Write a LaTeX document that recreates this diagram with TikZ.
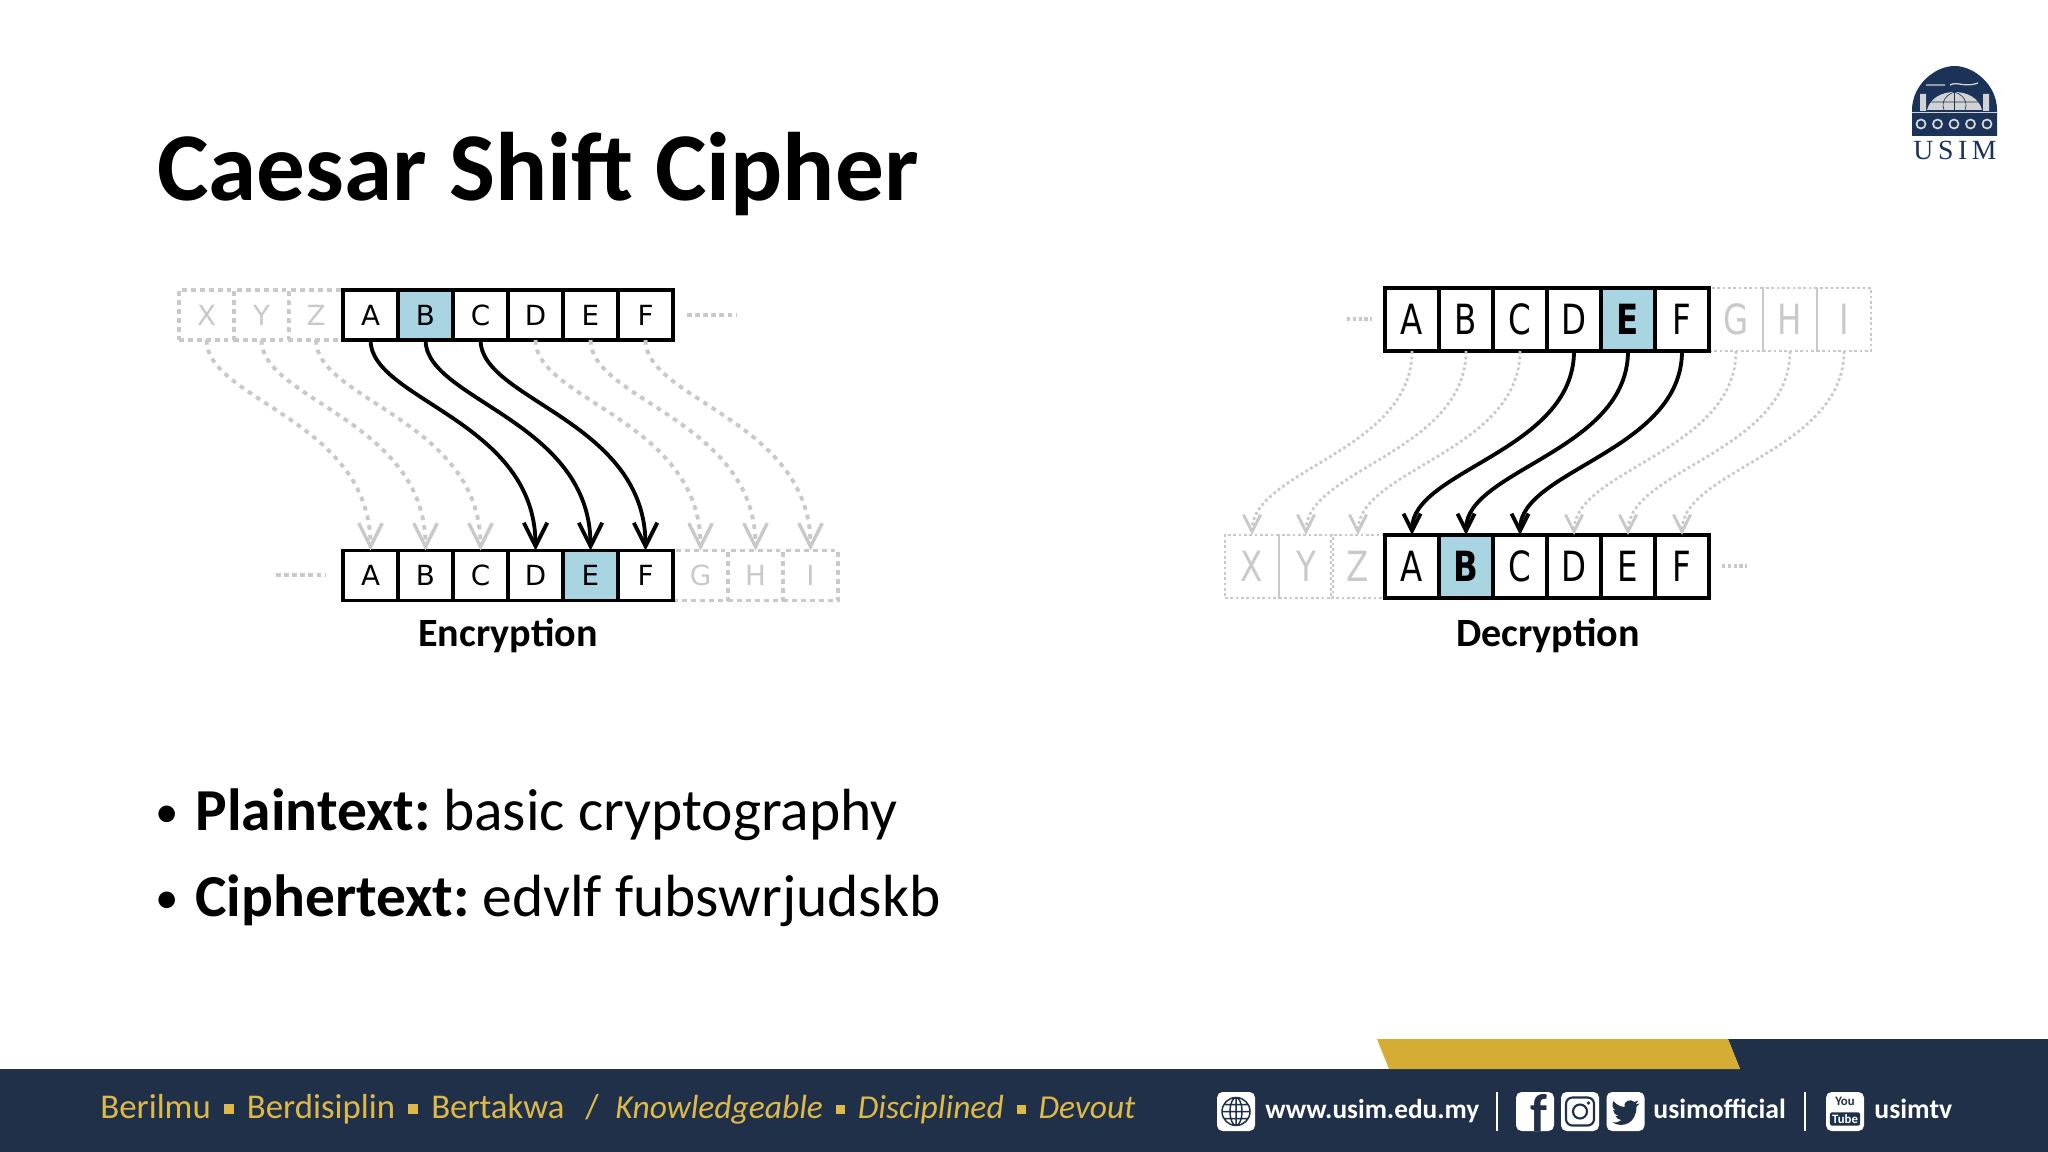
\documentclass[tikz,border=0pt]{standalone}
\usepackage{fontspec}
\setmainfont{Carlito}
\newfontfamily\cellfont{DejaVu Sans}
\newfontfamily\cellnarrow[FakeStretch=0.78]{DejaVu Sans}
\newfontfamily\logofont{Liberation Serif}
\usetikzlibrary{arrows.meta,calc}
\definecolor{navy}{HTML}{203049}
\definecolor{logonavy}{HTML}{1B3358}
\definecolor{gold}{HTML}{D5AD35}
\definecolor{footgold}{HTML}{DDB94A}
\definecolor{hilite}{HTML}{A9D5E3}
\definecolor{ghost}{HTML}{C9C9C9}
\def\pxu{0.46875pt}
\tikzset{
  cell/.style={draw=black,line width=1.7pt,fill=white,inner sep=0pt,outer sep=0pt,text=black},
  ghostcell/.style={draw=ghost,line width=1.6pt,dash pattern=on 2.2pt off 2pt,inner sep=0pt,outer sep=0pt,text=ghost},
  enccell/.style={minimum width=55*\pxu,minimum height=50*\pxu,font=\cellfont\fontsize{13}{14}\selectfont},
  deccell/.style={minimum width=54*\pxu,minimum height=63*\pxu,font=\cellnarrow\fontsize{19.5}{20}\selectfont},
  encarrow/.style={line width=1.8pt,-{Straight Barb[width=11pt,length=11pt,line width=1.8pt]}},
  encghost/.style={ghost,line width=1.8pt,dash pattern=on 2.2pt off 2.4pt,-{Straight Barb[width=11pt,length=11pt,line width=1.6pt,sep=0pt]}},
  decarrow/.style={line width=1.8pt,-{Straight Barb[width=8pt,length=8pt,line width=1.8pt]}},
  decghost/.style={ghost,line width=1.3pt,dash pattern=on 1.3pt off 1.3pt,-{Straight Barb[width=8pt,length=8pt,line width=1.4pt]}},
  dots/.style={ghost,line width=2pt,dash pattern=on 2.2pt off 1.6pt},
  caption/.style={font=\fontsize{18.8}{20}\selectfont\bfseries,inner sep=0pt},
  bodytext/.style={anchor=base west,inner sep=0pt,font=\fontsize{27.9}{30}\selectfont},
  bulmark/.style={anchor=base west,inner sep=0pt,font=\fontsize{22}{24}\selectfont},
  foottext/.style={anchor=base west,inner sep=0pt,text=footgold,font=\fontsize{16.3}{18}\selectfont},
  linktext/.style={anchor=base west,inner sep=0pt,text=white,font=\fontsize{13}{15}\selectfont\bfseries},
  iconbox/.style={fill=white,rounded corners=2.6pt,minimum width=38*\pxu,minimum height=39*\pxu,inner sep=0pt,outer sep=0pt}
}
\newcommand{\footsq}{\hspace{.38em}\rule[.12em]{.28em}{.28em}\hspace{.38em}}
\begin{document}
\begin{tikzpicture}[x=0.46875pt,y=-0.46875pt]
\useasboundingbox (0,0) rectangle (2048,1152);

% title
\node[anchor=base west,inner sep=0pt,font=\fontsize{45.6}{50}\selectfont\bfseries] (title) at (157,201) {Caesar Shift Cipher};

% encryption, ghost cells first
\foreach \l/\x in {X/206.5,Y/261.5,Z/316}
  \node[ghostcell,enccell] (et\l) at (\x,315) {\l};
\foreach \l/\x in {G/700.5,H/755.5,I/810.5}
  \node[ghostcell,enccell] (eb\l) at (\x,575.5) {\l};
\foreach \l/\x in {A/370.5,B/425.5,C/480.5,D/535.5,E/590.5,F/645.5} {
  \node[cell,enccell] (et\l) at (\x,315) {\l};
  \node[cell,enccell] (eb\l) at (\x,575.5) {\l};
}
\node[cell,enccell,fill=hilite] (etB) at (425.5,315) {B};
\node[cell,enccell,fill=hilite] (ebE) at (590.5,575.5) {E};
\coordinate (ed1) at (687,315);
\coordinate (ed2) at (736,315);
\coordinate (ed3) at (276,575);
\coordinate (ed4) at (325,575);
\draw[dots] (ed1) -- (ed2);
\draw[dots] (ed3) -- (ed4);

\foreach \a/\b in {X/A,Y/B,Z/C,D/G,E/H,F/I}
  \draw[encghost] (et\a.south) .. controls +(0,60) and +(0,-130) .. (eb\b.north);
\foreach \a/\b in {A/D,B/E,C/F}
  \draw[encarrow] (et\a.south) .. controls +(0,60) and +(0,-130) .. (eb\b.north);
\node[caption] (enc) at (508,636) {Encryption};

% decryption
\foreach \l/\x in {G/1736,H/1790,I/1844}
  \node[ghostcell,deccell,line width=1.2pt,dash pattern=on 1.3pt off 1.2pt] (dt\l) at (\x,319.5) {\l};
\foreach \l/\x in {X/1252,Y/1306,Z/1358}
  \node[ghostcell,deccell,line width=1.2pt,dash pattern=on 1.3pt off 1.2pt] (db\l) at (\x,566.5) {\l};
\foreach \l/\x in {A/1412,B/1466,C/1520,D/1574,E/1628,F/1682} {
  \node[cell,deccell] (dt\l) at (\x,319.5) {\l};
  \node[cell,deccell] (db\l) at (\x,566.5) {\l};
}
\node[cell,deccell,fill=hilite] (dtE) at (1628,319.5) {\textbf{E}};
\node[cell,deccell,fill=hilite] (dbB) at (1466,566.5) {\textbf{B}};
\coordinate (dd1) at (1347,319);
\coordinate (dd2) at (1372,319);
\coordinate (dd3) at (1722,566);
\coordinate (dd4) at (1747,566);
\draw[dots,line width=1.5pt,dash pattern=on 1.5pt off 1.2pt] (dd1) -- (dd2);
\draw[dots,line width=1.5pt,dash pattern=on 1.5pt off 1.2pt] (dd3) -- (dd4);

\foreach \a/\b in {A/X,B/Y,C/Z,G/D,H/E,I/F}
  \draw[decghost] (dt\a.south) .. controls +(0,100) and +(0,-65) .. (db\b.north);
\foreach \a/\b in {D/A,E/B,F/C}
  \draw[decarrow] (dt\a.south) .. controls +(0,100) and +(0,-65) .. (db\b.north);
\node[caption] (dec) at (1548,636) {Decryption};

% bullets
\node[bulmark] (bul1) at (155,827) {•};
\node[bodytext] (plain) at (195,830) {\textbf{Plaintext:}\kern-.09em{} basic cryptography};
\node[bulmark] (bul2) at (155,913) {•};
\node[bodytext] (cipher) at (195,916) {\textbf{Ciphertext:}\kern-.09em{} edvlf fubswrjudskb};

% footer band
\fill[navy] (0,1069) rectangle (2048,1152);
\fill[navy] (1728,1039) -- (2048,1039) -- (2048,1069) -- (1740,1069) -- cycle;
\fill[gold] (1377,1039) -- (1728,1039) -- (1740,1069) -- (1389,1069) -- cycle;
\node[foottext] (motto) at (100,1118) {Berilmu\footsq Berdisiplin\footsq Bertakwa\hspace{.6em}/};
\node[foottext,font=\fontsize{15.7}{18}\selectfont\itshape] (mottoen) at (615,1118) {Knowledgeable\footsq Disciplined\footsq Devout};

% link icons
\node[iconbox] (icweb) at (1236,1111.5) {};
\draw[navy,line width=.7pt] (icweb.center) circle (14)
  (icweb.center) ellipse (6 and 14)
  ($(icweb.center)+(-14,0)$) -- +(28,0)
  ($(icweb.center)+(-12.5,-7)$) -- +(25,0)
  ($(icweb.center)+(-12.5,7)$) -- +(25,0)
  ($(icweb.center)+(0,-14)$) -- +(0,28);
\node[linktext,font=\fontsize{12.8}{15}\selectfont\bfseries] (web) at (1265,1118) {www.usim.edu.my};
\draw[white,line width=.8pt] (1497,1092) -- (1497,1131);
\node[iconbox] (icfb) at (1535,1111.5) {};
\node[text=navy,font=\fontsize{25}{25}\selectfont\bfseries,inner sep=0pt,anchor=base] (fbf) at (1539,1131) {f};
\node[iconbox] (icig) at (1580,1111.5) {};
\draw[navy,line width=1pt,rounded corners=3pt] ($(icig.center)+(-14,-14)$) rectangle ($(icig.center)+(14,14)$);
\draw[navy,line width=1pt] (icig.center) circle (7);
\fill[navy] ($(icig.center)+(8.5,-8.5)$) circle (1.8);
\node[iconbox] (ictw) at (1625.5,1111.5) {};
\begin{scope}[shift={(ictw.center)}]
\fill[navy] (14,-8) -- (10,-7) -- (13,-11) -- (9,-9.5) .. controls (5,-13) and (-2,-11) .. (-1,-4.5)
  .. controls (-6,-5) and (-10,-7.5) .. (-12,-10.5) .. controls (-14,-7) and (-13,-3) .. (-10,-1)
  -- (-12.5,-1.5) .. controls (-12,1.5) and (-10,3.5) .. (-7,4.5) -- (-10,4.5)
  .. controls (-9,7) and (-7,8) .. (-4,8.5) .. controls (-6.5,10.5) and (-9.5,11.5) .. (-13,11)
  .. controls (-3,17) and (11,12) .. (11,-5) -- cycle;
\end{scope}
\node[linktext] (social) at (1653,1118) {usimofficial};
\draw[white,line width=.8pt] (1805,1092) -- (1805,1131);
\node[iconbox] (icyt) at (1845,1111.5) {};
\node[text=navy,font=\fontsize{6}{6}\selectfont\bfseries,inner sep=0pt] (ytyou) at (1845,1101) {You};
\node[fill=navy,text=white,rounded corners=1pt,font=\fontsize{6}{6}\selectfont\bfseries,inner sep=1pt] (yttube) at (1845,1119) {Tube};
\node[linktext] (tv) at (1874,1118) {usimtv};

% logo
\fill[logonavy] (1912,136) -- (1912,110) .. controls (1912,85) and (1935,66) .. (1954.5,66)
  .. controls (1974,66) and (1997,85) .. (1997,110) -- (1997,136) -- cycle;
\fill[gray!35] (1927,110) .. controls (1930,98) and (1942,92) .. (1954.5,92)
  .. controls (1967,92) and (1979,98) .. (1982,110) -- cycle;
\draw[logonavy,line width=.3pt] (1954.5,92) -- (1954.5,110) (1929,102) -- (1980,102)
  (1954.5,92) .. controls (1942,96) and (1942,106) .. (1944,110)
  (1954.5,92) .. controls (1967,96) and (1967,106) .. (1965,110);
\fill[gray!35] (1920,94) rectangle (1926,111) (1983,94) rectangle (1989,111);
\draw[gray!35,line width=.6pt] (1912,112.5) -- (1997,112.5);
\draw[gray!35,line width=.6pt] (1926,85) -- (1945,85) (1950,85) .. controls (1957,81) and (1965,88) .. (1978,83);
\foreach \x in {1921,1937.5,1954,1970.5,1987}
  \draw[gray!30,line width=.8pt] (\x,124) circle (4.5);
\node[text=logonavy,font=\logofont\fontsize{13}{13}\selectfont,inner sep=0pt,anchor=base] (usim) at (1955,160) {U\,S\,I\,M};
\end{tikzpicture}
\end{document}
